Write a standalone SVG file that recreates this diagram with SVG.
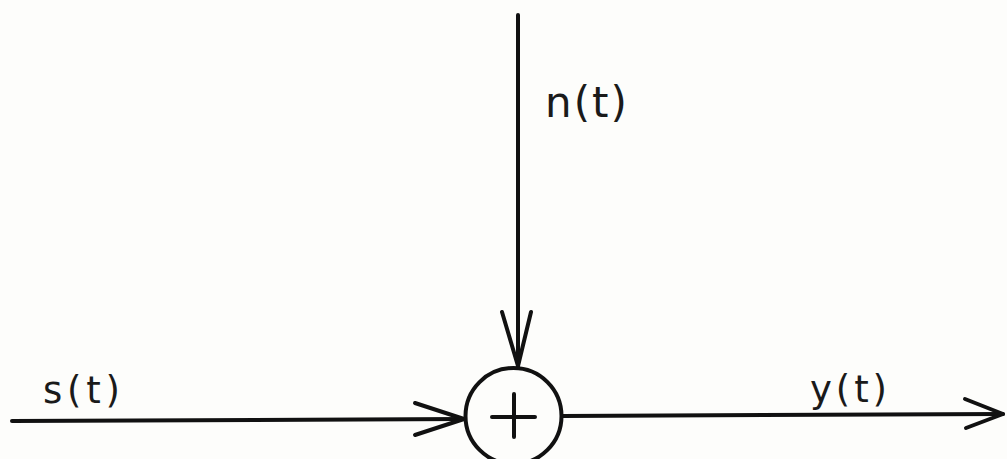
<svg xmlns="http://www.w3.org/2000/svg" width="1007" height="459" viewBox="0 0 1007 459">
<style>
.ln{stroke:#111;stroke-width:4;fill:none;stroke-linecap:round;stroke-linejoin:round}
.lb{font-family:"DejaVu Sans",sans-serif;fill:#1a1a1a}
</style>
<rect width="1007" height="459" fill="#fdfdfb"/>
<g id="connectors">
<path class="ln" d="M518 15 L518 366"/>
<path class="ln" d="M502 312 L518 366 L531 312"/>
<path class="ln" d="M12 421 L464 419"/>
<path class="ln" d="M415 403 L464 419 L415 435"/>
<path class="ln" d="M562 416 L1003 414"/>
<path class="ln" d="M965 399 L1003 414 L966 428"/>
</g>
<g id="sum">
<circle class="ln" cx="513.5" cy="416" r="48" stroke-width="3.5"/>
<path class="ln" d="M492 417 L535 417 M514 394 L514 437" stroke-width="3"/>
</g>
<g id="labels">
<text class="lb" x="43" y="403" font-size="37" textLength="77" lengthAdjust="spacing">s(t)</text>
<text class="lb" x="545" y="117" font-size="42" textLength="82" lengthAdjust="spacing">n(t)</text>
<text class="lb" x="810" y="402" font-size="37" textLength="77" lengthAdjust="spacing">y(t)</text>
</g>
</svg>
